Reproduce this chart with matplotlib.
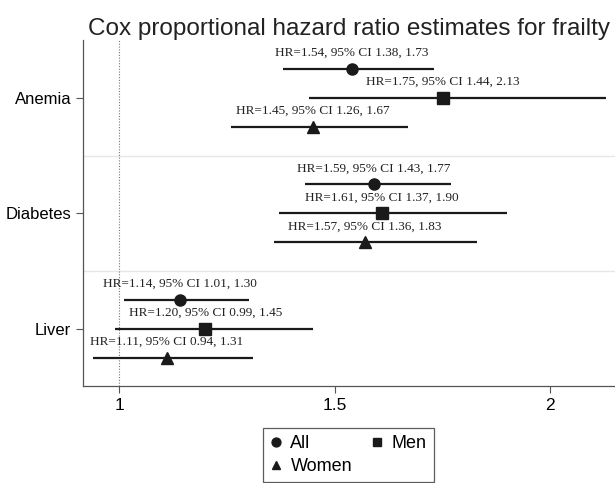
import numpy as np
import matplotlib.pyplot as plt

# data
groups = ['Anemia', 'Diabetes', 'Liver']
series = ['All', 'Men', 'Women']
markers = ['o', 's', '^']

hr = {'All':   [1.54, 1.59, 1.14],
      'Men':   [1.75, 1.61, 1.20],
      'Women': [1.45, 1.57, 1.11]}
lo = {'All':   [1.38, 1.43, 1.01],
      'Men':   [1.44, 1.37, 0.99],
      'Women': [1.26, 1.36, 0.94]}
hi = {'All':   [1.73, 1.77, 1.30],
      'Men':   [2.13, 1.90, 1.45],
      'Women': [1.67, 1.83, 1.31]}
offsets = [-0.25, 0.0, 0.25]

fig = plt.figure(figsize=(6.15, 4.83), dpi=100)
ax = fig.add_axes([0.135, 0.2, 0.865, 0.717])

ax.axvline(1, color='#777777', linestyle=(0, (1, 1.5)), linewidth=0.8, zorder=1)
for sep in [0.5, 1.5]:
    ax.axhline(sep, color='#e6e6e6', linewidth=1, zorder=0)

handles = {}
for s, m, off in zip(series, markers, offsets):
    ys = np.arange(len(groups)) + off
    ax.hlines(ys, lo[s], hi[s], color='#1a1a1a', linewidth=1.6, zorder=2)
    h, = ax.plot(hr[s], ys, linestyle='none', marker=m, color='#1a1a1a',
                 markersize=8, zorder=3, label=s)
    handles[s] = h
    for y, e, l, u in zip(ys, hr[s], lo[s], hi[s]):
        ax.text(e, y - 0.085, 'HR=%.2f, 95%% CI %.2f, %.2f' % (e, l, u),
                ha='center', va='bottom', fontsize=9.5,
                family='Liberation Serif', color='#222222')

ax.set_xlim(0.916, 2.15)
ax.set_ylim(2.5, -0.5)
ax.set_yticks(range(len(groups)))
ax.set_yticklabels(groups, family='Liberation Sans', fontsize=12)
ax.set_xticks([1, 1.5, 2])
ax.set_xticklabels(['1', '1.5', '2'], family='Liberation Sans', fontsize=12.5)
ax.tick_params(color='#555555', length=5, width=0.8)
ax.spines['top'].set_visible(False)
ax.spines['right'].set_visible(False)
for sp in ['left', 'bottom']:
    ax.spines[sp].set_color('#555555')
    ax.spines[sp].set_linewidth(0.9)

fig.suptitle('Cox proportional hazard ratio estimates for frailty', x=0.568, y=0.962,
             family='Liberation Sans', fontsize=17.5, color='#222222')

# column-wise fill: All, Women | Men
leg = fig.legend(handles=[handles['All'], handles['Women'], handles['Men']],
                 loc='upper center', bbox_to_anchor=(0.567, 0.132), ncol=2,
                 frameon=True, fancybox=False, edgecolor='#333333',
                 prop={'family': 'Liberation Sans', 'size': 13},
                 handlelength=0.6, handletextpad=0.5, columnspacing=1.1,
                 borderpad=0.4, labelspacing=0.3, markerscale=0.8)
leg.get_frame().set_linewidth(0.9)

fig.savefig('out.png', dpi=100)
